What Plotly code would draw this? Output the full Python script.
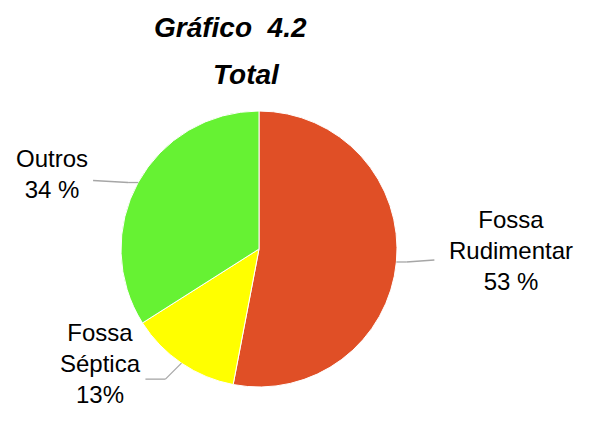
import math
import plotly.graph_objects as go

categories = ["Fossa Rudimentar", "Fossa Séptica", "Outros"]
values = [53, 13, 34]
label_texts = ["Fossa<br>Rudimentar<br>53 %", "Fossa<br>Séptica<br>13%", "Outros<br>34 %"]
colors = ["#E04F26", "#FFFF00", "#66F233"]

W, H = 591, 426
cx, cy, r = 259, 249, 138  # pie centre / radius in pixels

fig = go.Figure(go.Pie(
    labels=categories,
    values=values,
    sort=False,
    direction="clockwise",
    rotation=0,
    marker=dict(colors=colors, line=dict(color="white", width=1)),
    textinfo="none",
    hoverinfo="label+percent",
    showlegend=False,
    domain=dict(x=[(cx - r) / W, (cx + r) / W], y=[(H - cy - r) / H, (H - cy + r) / H]),
))

# label geometry per slice: (elbow offset, end-of-line offset, text anchor offset)
label_cfg = [
    dict(elbow=(10, 0), end=(38, -2), text=(115, -11)),
    dict(elbow=(-16, 16), end=(-36, 16), text=(-81, 0)),
    dict(elbow=(-10, 0), end=(-45, -2), text=(-86, -9)),
]

def px_to_paper(x, y):
    return x / W, 1 - y / H

shapes = []
annotations = []
total = sum(values)
start = 0.0
for val, txt, cfg in zip(values, label_texts, label_cfg):
    mid = start + val / total * 360 / 2
    start += val / total * 360
    a = math.radians(mid)
    ex, ey = cx + r * math.sin(a), cy - r * math.cos(a)
    bx, by = ex + cfg["elbow"][0], ey + cfg["elbow"][1]
    lx, ly = ex + cfg["end"][0], ey + cfg["end"][1]
    for (x0, y0), (x1, y1) in (((ex, ey), (bx, by)), ((bx, by), (lx, ly))):
        p0, p1 = px_to_paper(x0, y0), px_to_paper(x1, y1)
        shapes.append(dict(type="line", xref="paper", yref="paper",
                           x0=p0[0], y0=p0[1], x1=p1[0], y1=p1[1],
                           line=dict(color="#A6A6A6", width=1.3)))
    tx, ty = px_to_paper(ex + cfg["text"][0], ey + cfg["text"][1])
    annotations.append(dict(x=tx, y=ty, xref="paper", yref="paper", text=txt,
                            showarrow=False, xanchor="center", yanchor="middle",
                            align="center",
                            font=dict(family="Liberation Sans, Arial", size=24, color="#000")))

annotations.append(dict(x=230 / W, y=1 - 27 / H, xref="paper", yref="paper",
                        text="<b><i>Gráfico  4.2</i></b>", showarrow=False,
                        xanchor="center", yanchor="middle",
                        font=dict(family="Liberation Sans, Arial", size=28, color="#000")))
annotations.append(dict(x=246 / W, y=1 - 74 / H, xref="paper", yref="paper",
                        text="<b><i>Total</i></b>", showarrow=False,
                        xanchor="center", yanchor="middle",
                        font=dict(family="Liberation Sans, Arial", size=28, color="#000")))

fig.update_layout(
    width=W, height=H,
    margin=dict(l=0, r=0, t=0, b=0),
    paper_bgcolor="white", plot_bgcolor="white",
    shapes=shapes, annotations=annotations,
)

fig.write_html("out.html")
